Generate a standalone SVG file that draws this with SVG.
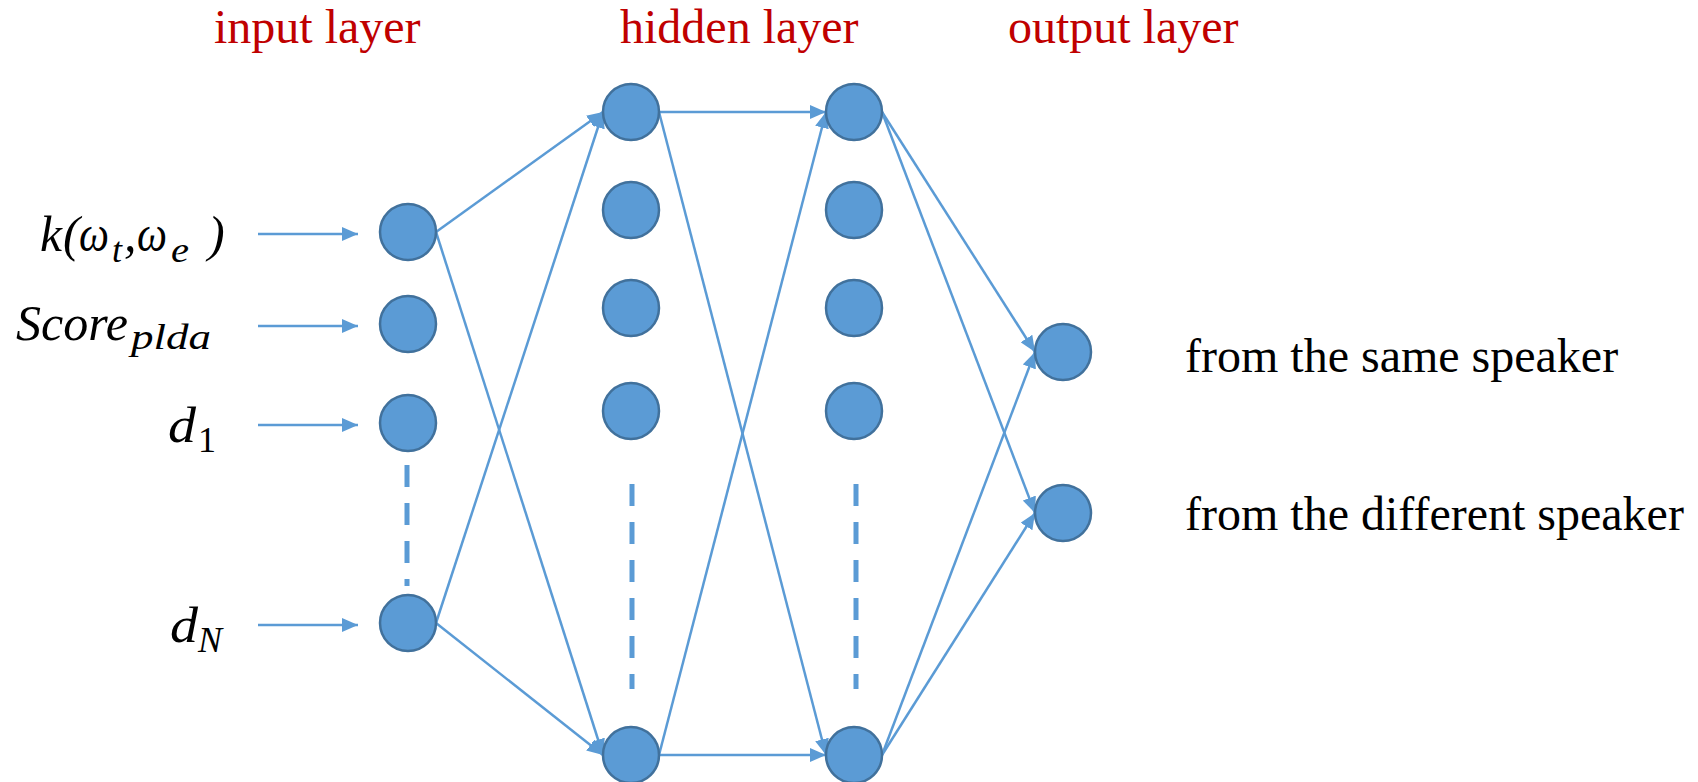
<svg xmlns="http://www.w3.org/2000/svg" width="1698" height="782" viewBox="0 0 1698 782">
  <style>
    .node { fill: #5B9BD5; stroke: #41719C; stroke-width: 2.5; }
    .edge { stroke: #5B9BD5; stroke-width: 2.5; fill: none; }
    .dots { stroke: #5B9BD5; stroke-width: 5; stroke-dasharray: 22 16; fill: none; }
    .head { font-family: "Liberation Serif", "Times New Roman", serif; font-size: 48px; fill: #C00000; }
    .out { font-family: "Liberation Serif", "Times New Roman", serif; font-size: 48px; fill: #000000; }
    .math { font-family: "Liberation Serif", "Times New Roman", serif; font-style: italic; font-size: 50px; fill: #000000; }
    .sub { font-size: 36px; }
    .up { font-style: normal; }
  </style>
  <defs>
    <marker id="arrow" markerWidth="16" markerHeight="14" refX="16" refY="7" orient="auto" markerUnits="userSpaceOnUse">
      <path d="M0,0 L16,7 L0,14 Z" fill="#5B9BD5"/>
    </marker>
  </defs>
  <rect width="1698" height="782" fill="#FFFFFF"/>

  <!-- layer titles -->
  <text class="head" x="214" y="43">input layer</text>
  <text class="head" x="620" y="43">hidden layer</text>
  <text class="head" x="1008" y="43">output layer</text>

  <!-- input feature labels (math italics, subscripts set lower and smaller) -->
  <g id="labelKernel">
    <text class="math" y="251"><tspan x="40" textLength="22" lengthAdjust="spacingAndGlyphs">k</tspan><tspan x="63">(</tspan><tspan x="79" textLength="30" lengthAdjust="spacingAndGlyphs">ω</tspan><tspan class="sub" x="112" y="262">t</tspan><tspan x="124" y="251">,</tspan><tspan x="137" textLength="30" lengthAdjust="spacingAndGlyphs">ω</tspan><tspan class="sub" x="171" y="262" textLength="18" lengthAdjust="spacingAndGlyphs">e</tspan><tspan x="208" y="251">)</tspan></text>
  </g>
  <g id="labelScore">
    <text class="math" y="340"><tspan x="16" textLength="112" lengthAdjust="spacingAndGlyphs">Score</tspan><tspan class="sub" x="131" y="349" textLength="80" lengthAdjust="spacingAndGlyphs">plda</tspan></text>
  </g>
  <g id="labelD1">
    <text class="math" y="442"><tspan x="168" textLength="28" lengthAdjust="spacingAndGlyphs">d</tspan><tspan class="sub up" x="198" y="452">1</tspan></text>
  </g>
  <g id="labelDN">
    <text class="math" y="642"><tspan x="170" textLength="28" lengthAdjust="spacingAndGlyphs">d</tspan><tspan class="sub" x="198" y="652">N</tspan></text>
  </g>

  <!-- output labels -->
  <text class="out" x="1185" y="372">from the same speaker</text>
  <text class="out" x="1185" y="530">from the different speaker</text>

  <!-- connectors -->
  <g id="connectors">
    <line class="edge" x1="258" y1="234" x2="358" y2="234" marker-end="url(#arrow)"/>
    <line class="edge" x1="258" y1="326" x2="358" y2="326" marker-end="url(#arrow)"/>
    <line class="edge" x1="258" y1="425" x2="358" y2="425" marker-end="url(#arrow)"/>
    <line class="edge" x1="258" y1="625" x2="358" y2="625" marker-end="url(#arrow)"/>

    <line class="edge" x1="436" y1="232" x2="603" y2="112" marker-end="url(#arrow)"/>
    <line class="edge" x1="436" y1="232" x2="603" y2="755" marker-end="url(#arrow)"/>
    <line class="edge" x1="436" y1="623" x2="603" y2="112" marker-end="url(#arrow)"/>
    <line class="edge" x1="436" y1="623" x2="603" y2="755" marker-end="url(#arrow)"/>

    <line class="edge" x1="659" y1="112" x2="826" y2="112" marker-end="url(#arrow)"/>
    <line class="edge" x1="659" y1="112" x2="826" y2="755" marker-end="url(#arrow)"/>
    <line class="edge" x1="659" y1="755" x2="826" y2="112" marker-end="url(#arrow)"/>
    <line class="edge" x1="659" y1="755" x2="826" y2="755" marker-end="url(#arrow)"/>

    <line class="edge" x1="882" y1="112" x2="1035" y2="352" marker-end="url(#arrow)"/>
    <line class="edge" x1="882" y1="112" x2="1035" y2="513" marker-end="url(#arrow)"/>
    <line class="edge" x1="882" y1="755" x2="1035" y2="352" marker-end="url(#arrow)"/>
    <line class="edge" x1="882" y1="755" x2="1035" y2="513" marker-end="url(#arrow)"/>

    <!-- elided units -->
    <line class="dots" x1="407" y1="465" x2="407" y2="586"/>
    <line class="dots" x1="632" y1="484" x2="632" y2="689"/>
    <line class="dots" x1="856" y1="484" x2="856" y2="689"/>
  </g>

  <!-- input layer -->
  <g id="in1"><circle class="node" cx="408" cy="232" r="28"/></g>
  <g id="in2"><circle class="node" cx="408" cy="324" r="28"/></g>
  <g id="in3"><circle class="node" cx="408" cy="423" r="28"/></g>
  <g id="inN"><circle class="node" cx="408" cy="623" r="28"/></g>

  <!-- hidden layer, first column -->
  <g id="h1a"><circle class="node" cx="631" cy="112" r="28"/></g>
  <g id="h1b"><circle class="node" cx="631" cy="210" r="28"/></g>
  <g id="h1c"><circle class="node" cx="631" cy="308" r="28"/></g>
  <g id="h1d"><circle class="node" cx="631" cy="411" r="28"/></g>
  <g id="h1n"><circle class="node" cx="631" cy="755" r="28"/></g>

  <!-- hidden layer, second column -->
  <g id="h2a"><circle class="node" cx="854" cy="112" r="28"/></g>
  <g id="h2b"><circle class="node" cx="854" cy="210" r="28"/></g>
  <g id="h2c"><circle class="node" cx="854" cy="308" r="28"/></g>
  <g id="h2d"><circle class="node" cx="854" cy="411" r="28"/></g>
  <g id="h2n"><circle class="node" cx="854" cy="755" r="28"/></g>

  <!-- output layer -->
  <g id="outSame"><circle class="node" cx="1063" cy="352" r="28"/></g>
  <g id="outDiff"><circle class="node" cx="1063" cy="513" r="28"/></g>
</svg>
